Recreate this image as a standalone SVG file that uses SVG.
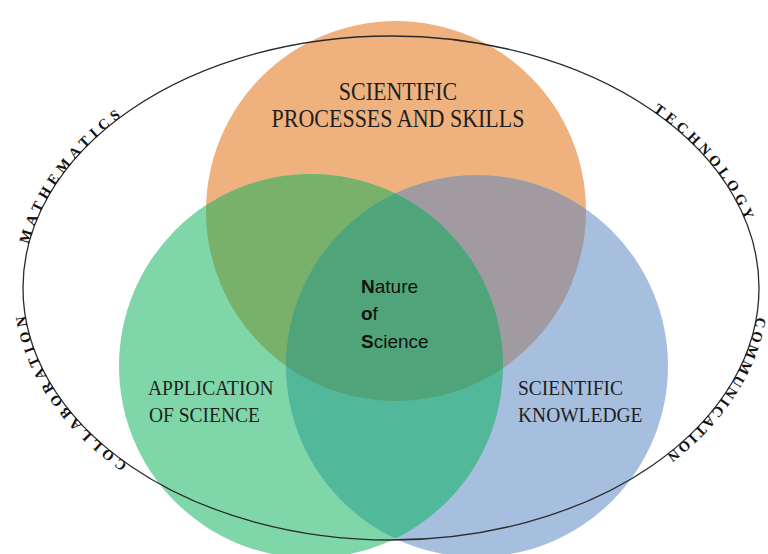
<svg xmlns="http://www.w3.org/2000/svg" xmlns:xlink="http://www.w3.org/1999/xlink" width="768" height="554" viewBox="0 0 768 554">
<style>
.lbl{font-family:"Liberation Serif","Times New Roman",serif;fill:#1e1e1e}
.arc{font-family:"Liberation Serif","Times New Roman",serif;font-size:14.5px;font-weight:bold;fill:#111}
.nos{font-family:"Liberation Sans",Arial,sans-serif;font-size:19px;fill:#111}
.nos tspan.b{font-weight:bold}
</style>
<defs>
<clipPath id="clipO"><circle cx="396" cy="211" r="190"/></clipPath>
<clipPath id="clipG"><circle cx="311" cy="366" r="192"/></clipPath>
<path id="ring" d="M 23 288 A 368 252 0 1 1 759 288 A 368 252 0 1 1 23 288"/>
</defs>
<rect width="768" height="554" fill="#ffffff"/>
<g id="circle-processes"><circle cx="396" cy="211" r="190" fill="#EFB27F"/></g>
<g id="circle-application"><circle cx="311" cy="366" r="192" fill="#7FD6A8"/></g>
<g id="circle-knowledge"><circle cx="477" cy="366" r="191" fill="#A7BFDE"/></g>
<g id="overlaps">
<circle cx="311" cy="366" r="192" fill="#79B06A" clip-path="url(#clipO)"/>
<circle cx="477" cy="366" r="191" fill="#A19BA1" clip-path="url(#clipO)"/>
<circle cx="477" cy="366" r="191" fill="#51B899" clip-path="url(#clipG)"/>
<g clip-path="url(#clipG)"><circle cx="477" cy="366" r="191" fill="#4FA579" clip-path="url(#clipO)"/></g>
</g>
<g id="ellipse">
<ellipse cx="391" cy="288" rx="368" ry="252" fill="none" stroke="#2a2a2a" stroke-width="1.3"/>
</g>
<g id="label-processes" class="lbl" font-size="22" text-anchor="middle">
<text transform="translate(398,100) scale(1,1.12)">SCIENTIFIC</text>
<text transform="translate(398,127) scale(1,1.12)">PROCESSES AND SKILLS</text>
</g>
<g id="label-application" class="lbl" font-size="19.5">
<text transform="translate(148,395) scale(1,1.12)">APPLICATION</text>
<text transform="translate(149,422) scale(1,1.12)">OF SCIENCE</text>
</g>
<g id="label-knowledge" class="lbl" font-size="19.5">
<text transform="translate(518,395) scale(1,1.12)">SCIENTIFIC</text>
<text transform="translate(518,422) scale(1,1.12)">KNOWLEDGE</text>
</g>
<g id="center-nos" class="nos">
<text x="361" y="293"><tspan class="b">N</tspan>ature</text>
<text x="361" y="320"><tspan class="b">o</tspan>f</text>
<text x="361" y="348"><tspan class="b">S</tspan>cience</text>
</g>
<g id="ring-labels" class="arc" text-anchor="middle">
<text style="letter-spacing:5px"><textPath href="#ring" xlink:href="#ring" startOffset="127">MATHEMATICS</textPath></text>
<text style="letter-spacing:4.4px"><textPath href="#ring" xlink:href="#ring" startOffset="842">TECHNOLOGY</textPath></text>
<text style="letter-spacing:3px"><textPath href="#ring" xlink:href="#ring" startOffset="1097">COMMUNICATION</textPath></text>
<text style="letter-spacing:4.6px"><textPath href="#ring" xlink:href="#ring" startOffset="1846">COLLABORATION</textPath></text>
</g>
</svg>
